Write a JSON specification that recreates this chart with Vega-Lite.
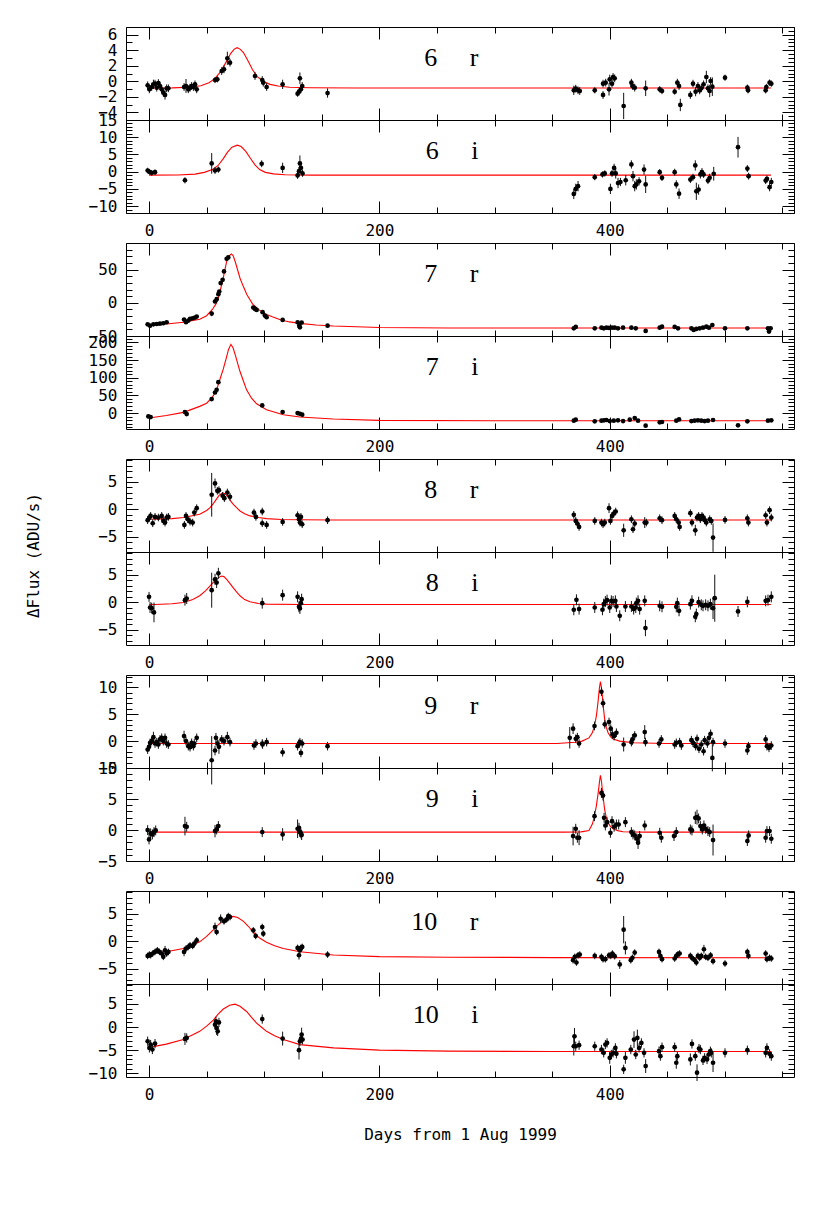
{
"$schema":"https://vega.github.io/schema/vega-lite/v6.json",
"background":"#ffffff",
"padding":{"left":24,"top":18,"right":10,"bottom":10},
"autosize":{"type":"pad"},
"config":{
 "view":{"stroke":"#000","strokeWidth":1},
 "axis":{"domain":false,"grid":false,"tickColor":"#000","tickWidth":1,"labelFont":"DejaVu Sans Mono","labelFontSize":16,"labelColor":"#000","titleFont":"DejaVu Sans Mono","titleFontSize":16,"titleFontWeight":"normal","titleColor":"#000","labelOverlap":false,"labelFlush":false,"labelBound":false}
},
"datasets":{
"m6r":[{"day":0,"flux":-0.87},{"day":20,"flux":-0.86},{"day":35,"flux":-0.78},{"day":45,"flux":-0.58},{"day":52,"flux":-0.2},{"day":57,"flux":0.3},{"day":62,"flux":1.2},{"day":67,"flux":2.5},{"day":71,"flux":3.6},{"day":74,"flux":4.15},{"day":76.5,"flux":4.33},{"day":79,"flux":4.15},{"day":82,"flux":3.7},{"day":86,"flux":2.6},{"day":90,"flux":1.45},{"day":94,"flux":0.6},{"day":99,"flux":0.0},{"day":105,"flux":-0.4},{"day":112,"flux":-0.62},{"day":122,"flux":-0.77},{"day":140,"flux":-0.84},{"day":180,"flux":-0.87},{"day":540,"flux":-0.87}],
"m6i":[{"day":0,"flux":-1.0},{"day":25,"flux":-0.95},{"day":40,"flux":-0.7},{"day":48,"flux":-0.2},{"day":55,"flux":0.6},{"day":60,"flux":1.8},{"day":64.5,"flux":3.8},{"day":68,"flux":5.6},{"day":72,"flux":7.1},{"day":76.6,"flux":7.7},{"day":80,"flux":7.3},{"day":84,"flux":5.9},{"day":88,"flux":3.9},{"day":92,"flux":2.0},{"day":96,"flux":0.6},{"day":101,"flux":-0.2},{"day":108,"flux":-0.65},{"day":118,"flux":-0.9},{"day":140,"flux":-1.0},{"day":540,"flux":-1.0}],
"m7r":[{"day":0,"flux":-33.4},{"day":15,"flux":-31.9},{"day":30,"flux":-29.3},{"day":44,"flux":-24.8},{"day":50,"flux":-19.5},{"day":55,"flux":-10},{"day":58,"flux":-2},{"day":60,"flux":6},{"day":62,"flux":20},{"day":64,"flux":33},{"day":65.5,"flux":47},{"day":67.5,"flux":63},{"day":69.5,"flux":70.5},{"day":71.5,"flux":73.5},{"day":73,"flux":71},{"day":75,"flux":61},{"day":77,"flux":49},{"day":79,"flux":37},{"day":82,"flux":24},{"day":85,"flux":12},{"day":90,"flux":-2},{"day":95,"flux":-10},{"day":100,"flux":-16},{"day":107,"flux":-21},{"day":114,"flux":-25.5},{"day":122,"flux":-28.8},{"day":131,"flux":-31},{"day":145,"flux":-33.5},{"day":160,"flux":-35},{"day":200,"flux":-37.2},{"day":260,"flux":-38},{"day":540,"flux":-38}],
"m7i":[{"day":0,"flux":-14},{"day":15,"flux":-7},{"day":30,"flux":2},{"day":44,"flux":19},{"day":50,"flux":28},{"day":53,"flux":37.7},{"day":56,"flux":50},{"day":58.7,"flux":65.8},{"day":60.2,"flux":82},{"day":62,"flux":100},{"day":64.5,"flux":125},{"day":67,"flux":155},{"day":69,"flux":180},{"day":71.1,"flux":194.5},{"day":73,"flux":184},{"day":75,"flux":163},{"day":77,"flux":140},{"day":79,"flux":117.5},{"day":82,"flux":90},{"day":84.7,"flux":65.8},{"day":89,"flux":42},{"day":93.4,"flux":26.4},{"day":102,"flux":9.5},{"day":116.6,"flux":-4.6},{"day":131,"flux":-11.2},{"day":160,"flux":-16.8},{"day":200,"flux":-20.5},{"day":300,"flux":-21.5},{"day":540,"flux":-21.8}],
"m8r":[{"day":0,"flux":-1.8},{"day":20,"flux":-1.7},{"day":30,"flux":-1.5},{"day":44,"flux":-0.9},{"day":50,"flux":-0.2},{"day":53,"flux":0.3},{"day":56,"flux":1.1},{"day":58.7,"flux":1.9},{"day":61,"flux":2.6},{"day":63.9,"flux":3.0},{"day":66,"flux":2.85},{"day":68.8,"flux":2.2},{"day":71,"flux":1.5},{"day":73,"flux":0.94},{"day":76,"flux":0.3},{"day":79,"flux":-0.3},{"day":83,"flux":-0.8},{"day":87.6,"flux":-1.2},{"day":95,"flux":-1.5},{"day":102,"flux":-1.7},{"day":115,"flux":-1.85},{"day":131,"flux":-1.9},{"day":160,"flux":-1.95},{"day":540,"flux":-1.95}],
"m8i":[{"day":0,"flux":-0.45},{"day":20,"flux":-0.25},{"day":29.8,"flux":-0.03},{"day":38,"flux":0.5},{"day":44,"flux":1.2},{"day":49,"flux":2.1},{"day":53,"flux":3.0},{"day":56,"flux":3.7},{"day":58.7,"flux":4.2},{"day":61,"flux":4.6},{"day":63,"flux":4.8},{"day":65,"flux":4.7},{"day":67.4,"flux":4.2},{"day":70,"flux":3.5},{"day":73,"flux":2.7},{"day":76,"flux":1.9},{"day":79,"flux":1.2},{"day":83,"flux":0.5},{"day":87.6,"flux":0.1},{"day":95,"flux":-0.2},{"day":102,"flux":-0.33},{"day":131,"flux":-0.4},{"day":540,"flux":-0.4}],
"m9r":[{"day":0,"flux":-0.44},{"day":354,"flux":-0.44},{"day":370,"flux":-0.2},{"day":376,"flux":0.0},{"day":382,"flux":0.6},{"day":385,"flux":1.6},{"day":386.7,"flux":2.8},{"day":388.5,"flux":4.8},{"day":389.8,"flux":7.2},{"day":391,"flux":9.8},{"day":391.9,"flux":11.05},{"day":392.8,"flux":10},{"day":393.6,"flux":8.4},{"day":394.6,"flux":6.0},{"day":395.6,"flux":4.1},{"day":397,"flux":2.6},{"day":398.5,"flux":1.6},{"day":400.5,"flux":0.9},{"day":402.9,"flux":0.4},{"day":408.7,"flux":0.0},{"day":420.3,"flux":-0.3},{"day":449,"flux":-0.44},{"day":540,"flux":-0.44}],
"m9i":[{"day":0,"flux":-0.34},{"day":360,"flux":-0.34},{"day":375,"flux":-0.3},{"day":382,"flux":-0.1},{"day":385,"flux":1.0},{"day":386.7,"flux":2.2},{"day":388.3,"flux":3.8},{"day":389.8,"flux":5.7},{"day":391,"flux":7.6},{"day":391.9,"flux":8.8},{"day":392.8,"flux":7.9},{"day":393.6,"flux":6.5},{"day":394.6,"flux":4.8},{"day":395.6,"flux":3.3},{"day":397,"flux":2.0},{"day":398.5,"flux":1.2},{"day":400.5,"flux":0.6},{"day":402.9,"flux":0.2},{"day":407,"flux":-0.1},{"day":411.5,"flux":-0.28},{"day":430,"flux":-0.34},{"day":540,"flux":-0.34}],
"m10r":[{"day":0,"flux":-2.2},{"day":15,"flux":-1.9},{"day":29.8,"flux":-1.3},{"day":44,"flux":-0.1},{"day":50,"flux":0.9},{"day":55.8,"flux":2.1},{"day":60,"flux":3.0},{"day":64.5,"flux":3.8},{"day":69,"flux":4.35},{"day":73,"flux":4.55},{"day":77,"flux":4.35},{"day":82,"flux":3.65},{"day":86,"flux":2.8},{"day":90.5,"flux":1.7},{"day":96,"flux":0.6},{"day":102,"flux":-0.15},{"day":109,"flux":-0.8},{"day":116.6,"flux":-1.3},{"day":131,"flux":-1.9},{"day":160,"flux":-2.5},{"day":200,"flux":-2.8},{"day":260,"flux":-2.9},{"day":350,"flux":-2.97},{"day":540,"flux":-3.0}],
"m10i":[{"day":0,"flux":-4.4},{"day":15,"flux":-3.7},{"day":29.8,"flux":-2.7},{"day":44,"flux":-0.93},{"day":50,"flux":0.2},{"day":55.8,"flux":1.5},{"day":60,"flux":2.8},{"day":64.5,"flux":3.9},{"day":70,"flux":4.7},{"day":74.6,"flux":4.94},{"day":79,"flux":4.5},{"day":84.7,"flux":3.36},{"day":89,"flux":2.1},{"day":93.4,"flux":0.86},{"day":98,"flux":-0.1},{"day":102,"flux":-0.93},{"day":109,"flux":-1.9},{"day":116.6,"flux":-2.7},{"day":131,"flux":-3.8},{"day":160,"flux":-4.5},{"day":200,"flux":-5.0},{"day":260,"flux":-5.2},{"day":350,"flux":-5.3},{"day":540,"flux":-5.3}],
"o6r":[{"day":-1.2,"flux":-0.53,"err":0.5},{"day":0.3,"flux":-1.04,"err":0.5},{"day":2.3,"flux":-0.74,"err":0.5},{"day":3.8,"flux":-0.4,"err":0.6},{"day":5.2,"flux":-0.31,"err":0.5},{"day":6.7,"flux":-0.83,"err":0.5},{"day":8.1,"flux":-0.23,"err":0.5},{"day":9.5,"flux":-0.61,"err":0.5},{"day":11.0,"flux":-1.04,"err":0.5},{"day":12.4,"flux":-1.47,"err":0.5},{"day":13.9,"flux":-1.77,"err":0.6},{"day":15.3,"flux":-0.91,"err":0.5},{"day":16.8,"flux":-0.91,"err":0.5},{"day":30.4,"flux":-0.74,"err":0.5},{"day":32.1,"flux":-0.61,"err":0.9},{"day":34.1,"flux":-1.04,"err":0.5},{"day":35.6,"flux":-0.83,"err":0.5},{"day":37.0,"flux":-0.61,"err":0.5},{"day":38.5,"flux":-0.74,"err":0.5},{"day":39.9,"flux":-0.4,"err":0.5},{"day":41.4,"flux":-1.04,"err":0.5},{"day":57.3,"flux":0.16,"err":0.4},{"day":59.3,"flux":0.25,"err":0.4},{"day":63.1,"flux":1.32,"err":0.5},{"day":65.1,"flux":1.54,"err":0.5},{"day":68.0,"flux":2.96,"err":0.85},{"day":70.3,"flux":2.4,"err":0.5},{"day":92.0,"flux":0.68,"err":0.5},{"day":98.3,"flux":0.16,"err":0.5},{"day":99.2,"flux":-0.18,"err":0.5},{"day":102.1,"flux":-0.74,"err":0.5},{"day":116.0,"flux":-0.4,"err":0.6},{"day":129.0,"flux":-1.6,"err":0.4},{"day":130.2,"flux":-1.34,"err":0.4},{"day":131.0,"flux":0.38,"err":0.75},{"day":131.9,"flux":-1.04,"err":0.5},{"day":133.0,"flux":-0.61,"err":0.5},{"day":155.0,"flux":-1.52,"err":0.6},{"day":368.8,"flux":-1.17,"err":0.6},{"day":370.5,"flux":-0.96,"err":0.5},{"day":372.5,"flux":-1.17,"err":0.5},{"day":374.0,"flux":-1.26,"err":0.5},{"day":387.0,"flux":-1.17,"err":0.4},{"day":394.2,"flux":-1.77,"err":0.5},{"day":394.2,"flux":-0.31,"err":0.5},{"day":396.5,"flux":-0.18,"err":0.5},{"day":399.4,"flux":-1.04,"err":0.8},{"day":400.0,"flux":0.25,"err":0.6},{"day":402.0,"flux":-0.31,"err":0.5},{"day":402.9,"flux":0.55,"err":0.5},{"day":404.3,"flux":0.38,"err":0.5},{"day":412.1,"flux":-3.19,"err":1.7},{"day":418.8,"flux":-0.18,"err":0.5},{"day":419.7,"flux":-0.61,"err":0.5},{"day":421.7,"flux":-0.83,"err":0.5},{"day":431.2,"flux":-0.91,"err":1.0},{"day":443.4,"flux":-1.04,"err":0.4},{"day":445.4,"flux":-1.26,"err":0.4},{"day":456.4,"flux":-1.34,"err":0.4},{"day":458.7,"flux":-0.18,"err":0.5},{"day":460.2,"flux":-0.61,"err":0.5},{"day":461.3,"flux":-3.06,"err":0.8},{"day":470.0,"flux":-1.77,"err":0.5},{"day":472.3,"flux":-0.31,"err":0.5},{"day":474.6,"flux":-1.34,"err":0.6},{"day":476.6,"flux":-0.61,"err":0.5},{"day":478.1,"flux":-1.17,"err":0.5},{"day":479.5,"flux":-0.91,"err":0.5},{"day":481.5,"flux":-0.4,"err":0.5},{"day":483.9,"flux":0.55,"err":0.8},{"day":485.3,"flux":-0.91,"err":0.5},{"day":486.8,"flux":-1.26,"err":0.8},{"day":487.6,"flux":0.03,"err":0.5},{"day":489.1,"flux":-0.7,"err":1.2},{"day":500.1,"flux":0.46,"err":0.4},{"day":519.5,"flux":-0.83,"err":0.4},{"day":520.1,"flux":-1.17,"err":0.4},{"day":535.4,"flux":-1.17,"err":0.4},{"day":536.0,"flux":-0.74,"err":0.4},{"day":538.8,"flux":-0.18,"err":0.4},{"day":540.3,"flux":-0.31,"err":0.4}],
"o6i":[{"day":-1.2,"flux":0.34,"err":0.8},{"day":0.3,"flux":-0.05,"err":0.8},{"day":2.3,"flux":-0.34,"err":0.8},{"day":5.2,"flux":-0.15,"err":0.8},{"day":31.2,"flux":-2.5,"err":0.9},{"day":54.4,"flux":2.4,"err":3.0},{"day":57.3,"flux":0.34,"err":1.0},{"day":60.2,"flux":0.6,"err":0.9},{"day":97.8,"flux":2.3,"err":1.0},{"day":116.0,"flux":1.1,"err":1.5},{"day":129.0,"flux":-1.1,"err":1.0},{"day":130.2,"flux":0.15,"err":1.2},{"day":131.0,"flux":2.4,"err":2.3},{"day":131.9,"flux":1.1,"err":1.5},{"day":133.3,"flux":-0.5,"err":1.0},{"day":368.8,"flux":-6.46,"err":1.5},{"day":370.5,"flux":-5.0,"err":1.5},{"day":372.5,"flux":-4.2,"err":1.5},{"day":387.0,"flux":-1.6,"err":0.9},{"day":393.7,"flux":-0.8,"err":0.9},{"day":395.7,"flux":-0.5,"err":0.9},{"day":400.6,"flux":-5.0,"err":1.5},{"day":402.0,"flux":-0.5,"err":1.0},{"day":403.8,"flux":1.1,"err":1.2},{"day":405.2,"flux":-0.5,"err":1.5},{"day":407.2,"flux":-3.3,"err":1.5},{"day":409.3,"flux":-3.0,"err":1.2},{"day":413.9,"flux":-2.5,"err":1.5},{"day":418.8,"flux":2.1,"err":1.2},{"day":420.2,"flux":-1.3,"err":1.5},{"day":421.7,"flux":-4.2,"err":1.5},{"day":423.1,"flux":-3.7,"err":1.5},{"day":425.5,"flux":-2.8,"err":1.2},{"day":429.8,"flux":0.6,"err":1.5},{"day":431.2,"flux":-3.7,"err":2.5},{"day":443.4,"flux":-0.15,"err":0.9},{"day":445.4,"flux":-1.8,"err":0.9},{"day":456.4,"flux":-0.15,"err":1.0},{"day":457.8,"flux":-3.7,"err":1.2},{"day":460.2,"flux":-6.4,"err":1.5},{"day":470.0,"flux":-2.3,"err":1.0},{"day":472.3,"flux":-1.6,"err":1.0},{"day":474.3,"flux":1.8,"err":1.5},{"day":475.2,"flux":-5.7,"err":2.5},{"day":477.2,"flux":-5.2,"err":1.5},{"day":478.7,"flux":-0.8,"err":1.2},{"day":480.1,"flux":-0.15,"err":1.2},{"day":481.5,"flux":-0.8,"err":1.0},{"day":485.3,"flux":-2.6,"err":1.0},{"day":486.8,"flux":-1.8,"err":1.2},{"day":490.3,"flux":-0.6,"err":2.0},{"day":511.4,"flux":7.1,"err":3.0},{"day":519.5,"flux":0.9,"err":1.0},{"day":520.6,"flux":-1.3,"err":1.0},{"day":535.4,"flux":-2.6,"err":1.0},{"day":536.5,"flux":-2.1,"err":1.0},{"day":538.8,"flux":-4.5,"err":1.2},{"day":540.3,"flux":-3.0,"err":1.2}],
"o7r":[{"day":-1.2,"flux":-32.4,"err":2},{"day":0.9,"flux":-34.4,"err":2},{"day":3.8,"flux":-32.4,"err":2},{"day":6.7,"flux":-31.9,"err":2},{"day":9.5,"flux":-31.4,"err":2},{"day":12.4,"flux":-30.8,"err":2},{"day":15.3,"flux":-29.3,"err":2},{"day":30.4,"flux":-25.3,"err":2},{"day":32.1,"flux":-29.3,"err":2},{"day":34.1,"flux":-26.8,"err":2},{"day":35.6,"flux":-24.3,"err":2},{"day":37.9,"flux":-23.3,"err":2},{"day":39.9,"flux":-22.3,"err":2},{"day":41.4,"flux":-20.8,"err":2},{"day":54.4,"flux":-16.2,"err":4},{"day":57.3,"flux":1.9,"err":2},{"day":58.7,"flux":5.4,"err":2},{"day":60.2,"flux":13.0,"err":2},{"day":61.0,"flux":17.0,"err":2},{"day":62.2,"flux":29.6,"err":2},{"day":63.9,"flux":34.6,"err":2},{"day":65.1,"flux":47.2,"err":2},{"day":67.4,"flux":66.3,"err":2},{"day":68.8,"flux":68.3,"err":2},{"day":90.5,"flux":-7.2,"err":2},{"day":92.0,"flux":-9.2,"err":2},{"day":93.4,"flux":-10.7,"err":2},{"day":98.6,"flux":-14.2,"err":2},{"day":100.6,"flux":-19.3,"err":2},{"day":102.1,"flux":-21.8,"err":2},{"day":116.0,"flux":-25.8,"err":2},{"day":129.0,"flux":-29.3,"err":2},{"day":130.4,"flux":-34.4,"err":3},{"day":131.0,"flux":-36.9,"err":2},{"day":132.5,"flux":-29.8,"err":2},{"day":155.0,"flux":-34.4,"err":2},{"day":368.8,"flux":-38.4,"err":2},{"day":370.5,"flux":-36.4,"err":2},{"day":387.0,"flux":-38.4,"err":2},{"day":392.8,"flux":-37.4,"err":2},{"day":394.8,"flux":-38.4,"err":2},{"day":397.1,"flux":-37.4,"err":2},{"day":399.4,"flux":-37.9,"err":2},{"day":402.0,"flux":-37.4,"err":2},{"day":404.3,"flux":-37.4,"err":2},{"day":407.2,"flux":-38.4,"err":2},{"day":411.6,"flux":-37.4,"err":2},{"day":418.8,"flux":-37.4,"err":2},{"day":422.6,"flux":-38.4,"err":2},{"day":431.2,"flux":-42.4,"err":2},{"day":443.4,"flux":-37.4,"err":2},{"day":445.4,"flux":-35.9,"err":2},{"day":456.4,"flux":-36.4,"err":2},{"day":459.3,"flux":-38.4,"err":2},{"day":470.9,"flux":-38.4,"err":2},{"day":472.9,"flux":-40.9,"err":2},{"day":475.2,"flux":-39.4,"err":2},{"day":478.1,"flux":-38.4,"err":2},{"day":481.0,"flux":-37.4,"err":2},{"day":483.9,"flux":-35.9,"err":2},{"day":486.2,"flux":-37.4,"err":2},{"day":489.1,"flux":-33.4,"err":2},{"day":500.1,"flux":-38.4,"err":2},{"day":519.5,"flux":-38.4,"err":2},{"day":537.4,"flux":-38.4,"err":2},{"day":538.3,"flux":-43.4,"err":2},{"day":539.7,"flux":-38.4,"err":2}],
"o7i":[{"day":-0.6,"flux":-9.3,"err":3},{"day":1.4,"flux":-11.2,"err":3},{"day":31.2,"flux":3.0,"err":3},{"day":32.7,"flux":-2.7,"err":3},{"day":54.4,"flux":39.5,"err":4},{"day":57.3,"flux":58.3,"err":4},{"day":58.7,"flux":65.8,"err":4},{"day":60.2,"flux":87.4,"err":4},{"day":98.3,"flux":21.7,"err":3},{"day":116.0,"flux":3.0,"err":3},{"day":129.0,"flux":0.05,"err":3},{"day":131.0,"flux":-1.8,"err":3},{"day":133.0,"flux":-4.6,"err":3},{"day":368.8,"flux":-21.5,"err":3},{"day":370.5,"flux":-18.7,"err":3},{"day":387.0,"flux":-23.4,"err":3},{"day":392.8,"flux":-21.5,"err":3},{"day":395.1,"flux":-20.5,"err":3},{"day":397.1,"flux":-19.6,"err":3},{"day":400.0,"flux":-22.5,"err":3},{"day":403.5,"flux":-21.5,"err":3},{"day":407.2,"flux":-20.5,"err":3},{"day":411.6,"flux":-22.5,"err":3},{"day":417.4,"flux":-18.7,"err":3},{"day":421.7,"flux":-14.0,"err":3},{"day":424.6,"flux":-21.5,"err":3},{"day":431.2,"flux":-35.6,"err":3},{"day":443.4,"flux":-26.2,"err":3},{"day":445.4,"flux":-25.2,"err":3},{"day":457.8,"flux":-21.5,"err":3},{"day":460.2,"flux":-17.8,"err":3},{"day":470.9,"flux":-22.5,"err":3},{"day":473.7,"flux":-21.5,"err":3},{"day":476.6,"flux":-20.5,"err":3},{"day":479.5,"flux":-21.5,"err":3},{"day":482.4,"flux":-22.5,"err":3},{"day":485.3,"flux":-21.5,"err":3},{"day":489.7,"flux":-19.6,"err":3},{"day":511.4,"flux":-34.6,"err":3},{"day":519.5,"flux":-23.4,"err":3},{"day":537.4,"flux":-21.5,"err":3},{"day":540.3,"flux":-20.5,"err":3}],
"o8r":[{"day":-1.2,"flux":-1.99,"err":0.7},{"day":0.3,"flux":-1.5,"err":0.7},{"day":1.4,"flux":-1.2,"err":0.7},{"day":3.2,"flux":-2.54,"err":0.7},{"day":5.2,"flux":-1.38,"err":0.7},{"day":8.1,"flux":-1.5,"err":0.7},{"day":11.0,"flux":-1.2,"err":0.7},{"day":12.4,"flux":-2.12,"err":0.7},{"day":13.9,"flux":-2.42,"err":0.7},{"day":15.3,"flux":-1.5,"err":0.7},{"day":16.8,"flux":-1.38,"err":0.7},{"day":30.7,"flux":-2.85,"err":0.7},{"day":32.1,"flux":-1.2,"err":0.7},{"day":33.6,"flux":-1.81,"err":0.7},{"day":35.6,"flux":-2.24,"err":0.7},{"day":37.9,"flux":-2.42,"err":0.7},{"day":39.3,"flux":-0.59,"err":0.7},{"day":41.4,"flux":0.21,"err":0.7},{"day":54.4,"flux":2.66,"err":4.0},{"day":57.3,"flux":4.73,"err":0.9},{"day":59.3,"flux":3.39,"err":0.7},{"day":60.7,"flux":3.51,"err":0.7},{"day":63.9,"flux":2.47,"err":0.7},{"day":65.4,"flux":2.04,"err":0.7},{"day":68.0,"flux":3.08,"err":0.7},{"day":70.3,"flux":2.29,"err":0.7},{"day":91.1,"flux":-0.59,"err":0.7},{"day":92.8,"flux":-1.38,"err":0.7},{"day":98.3,"flux":-0.4,"err":0.7},{"day":98.3,"flux":-2.54,"err":0.7},{"day":102.1,"flux":-2.85,"err":0.7},{"day":116.0,"flux":-2.3,"err":0.7},{"day":129.0,"flux":-1.08,"err":0.7},{"day":130.2,"flux":-1.81,"err":0.7},{"day":131.0,"flux":-2.42,"err":0.7},{"day":131.9,"flux":-1.38,"err":0.7},{"day":133.0,"flux":-2.73,"err":0.7},{"day":155.0,"flux":-1.99,"err":0.7},{"day":368.8,"flux":-1.01,"err":0.7},{"day":370.5,"flux":-2.12,"err":0.7},{"day":371.9,"flux":-2.6,"err":0.7},{"day":373.4,"flux":-3.22,"err":0.7},{"day":387.0,"flux":-2.12,"err":0.7},{"day":392.8,"flux":-2.42,"err":0.7},{"day":394.2,"flux":-2.73,"err":0.7},{"day":395.7,"flux":-2.42,"err":0.7},{"day":399.4,"flux":0.21,"err":0.9},{"day":400.6,"flux":-2.12,"err":0.7},{"day":402.0,"flux":-1.2,"err":0.7},{"day":403.5,"flux":-0.77,"err":0.7},{"day":405.2,"flux":-0.4,"err":0.7},{"day":412.1,"flux":-3.83,"err":1.2},{"day":418.8,"flux":-1.81,"err":0.7},{"day":420.2,"flux":-3.64,"err":0.7},{"day":421.7,"flux":-2.6,"err":0.7},{"day":430.4,"flux":-2.42,"err":1.0},{"day":431.8,"flux":-2.42,"err":0.7},{"day":443.4,"flux":-1.63,"err":0.7},{"day":445.4,"flux":-1.99,"err":0.7},{"day":456.4,"flux":-1.2,"err":0.7},{"day":457.8,"flux":-1.81,"err":0.7},{"day":459.9,"flux":-2.42,"err":0.7},{"day":460.7,"flux":-3.22,"err":0.7},{"day":470.0,"flux":-0.71,"err":0.7},{"day":471.4,"flux":-2.42,"err":0.7},{"day":474.3,"flux":-3.83,"err":1.0},{"day":475.8,"flux":-1.5,"err":0.7},{"day":477.2,"flux":-1.2,"err":0.7},{"day":478.7,"flux":-1.81,"err":0.7},{"day":480.1,"flux":-1.2,"err":0.7},{"day":481.5,"flux":-1.5,"err":0.7},{"day":482.4,"flux":-1.99,"err":0.7},{"day":483.9,"flux":-2.42,"err":0.7},{"day":486.8,"flux":-1.81,"err":0.7},{"day":488.2,"flux":-2.12,"err":0.7},{"day":489.7,"flux":-5.17,"err":2.6},{"day":500.1,"flux":-1.93,"err":0.7},{"day":519.5,"flux":-1.63,"err":0.7},{"day":520.4,"flux":-2.42,"err":0.7},{"day":535.4,"flux":-1.08,"err":0.7},{"day":536.5,"flux":-2.42,"err":0.7},{"day":538.8,"flux":-0.16,"err":0.7},{"day":540.3,"flux":-1.5,"err":0.7}],
"o8i":[{"day":0,"flux":1.0,"err":0.9},{"day":0.9,"flux":-0.94,"err":1.0},{"day":2.3,"flux":-1.06,"err":1.0},{"day":4.3,"flux":-1.85,"err":1.8},{"day":31.2,"flux":0.4,"err":1.0},{"day":32.7,"flux":0.7,"err":1.0},{"day":54.4,"flux":2.22,"err":3.2},{"day":57.3,"flux":4.22,"err":1.0},{"day":58.7,"flux":3.61,"err":1.0},{"day":60.2,"flux":5.31,"err":1.0},{"day":98.3,"flux":-0.15,"err":1.0},{"day":116.0,"flux":1.31,"err":1.0},{"day":129.0,"flux":1.0,"err":1.0},{"day":130.2,"flux":-0.82,"err":1.0},{"day":131.0,"flux":-1.12,"err":1.0},{"day":131.9,"flux":-0.15,"err":1.0},{"day":132.5,"flux":0.58,"err":1.0},{"day":368.8,"flux":-1.36,"err":1.0},{"day":371.1,"flux":0.46,"err":1.0},{"day":373.4,"flux":-1.24,"err":1.0},{"day":387.0,"flux":-0.94,"err":1.0},{"day":393.7,"flux":-1.36,"err":1.0},{"day":394.8,"flux":-0.33,"err":1.0},{"day":396.2,"flux":0.15,"err":1.0},{"day":397.7,"flux":0.4,"err":1.0},{"day":400.0,"flux":-0.94,"err":1.0},{"day":401.4,"flux":0.27,"err":1.0},{"day":402.9,"flux":0.15,"err":1.0},{"day":404.9,"flux":0.27,"err":1.0},{"day":405.8,"flux":-0.76,"err":1.0},{"day":408.7,"flux":-2.46,"err":1.0},{"day":413.6,"flux":-0.76,"err":1.0},{"day":418.8,"flux":-0.76,"err":1.0},{"day":420.8,"flux":-1.24,"err":1.0},{"day":422.6,"flux":-0.94,"err":1.0},{"day":423.1,"flux":-0.15,"err":1.0},{"day":424.6,"flux":0.27,"err":1.0},{"day":426.0,"flux":-1.24,"err":1.0},{"day":430.4,"flux":0.27,"err":1.0},{"day":431.0,"flux":-4.7,"err":1.5},{"day":443.4,"flux":-0.64,"err":1.0},{"day":445.4,"flux":-0.82,"err":1.0},{"day":457.8,"flux":-0.82,"err":1.0},{"day":458.7,"flux":-0.15,"err":1.0},{"day":460.2,"flux":-1.55,"err":1.0},{"day":470.0,"flux":-0.33,"err":1.0},{"day":471.4,"flux":0.27,"err":1.0},{"day":474.3,"flux":-2.64,"err":1.0},{"day":475.2,"flux":-2.15,"err":1.0},{"day":477.2,"flux":0.03,"err":1.0},{"day":479.5,"flux":-0.45,"err":1.0},{"day":481.0,"flux":-0.64,"err":1.0},{"day":483.3,"flux":-0.45,"err":1.0},{"day":485.3,"flux":-0.64,"err":1.0},{"day":487.4,"flux":-0.33,"err":1.0},{"day":489.7,"flux":-1.06,"err":2.0},{"day":491.2,"flux":0.76,"err":4.3},{"day":511.4,"flux":-1.67,"err":1.0},{"day":519.5,"flux":0.09,"err":1.0},{"day":535.4,"flux":0.27,"err":1.0},{"day":537.4,"flux":0.4,"err":1.0},{"day":540.3,"flux":1.0,"err":1.0}],
"o9r":[{"day":-1.2,"flux":-1.57,"err":0.8},{"day":0,"flux":-1.07,"err":0.8},{"day":0.9,"flux":-0.32,"err":0.8},{"day":2.3,"flux":0.0,"err":0.8},{"day":3.8,"flux":0.74,"err":1.0},{"day":5.2,"flux":-0.44,"err":0.8},{"day":6.7,"flux":-0.19,"err":0.8},{"day":8.1,"flux":-0.63,"err":0.8},{"day":9.5,"flux":0.31,"err":0.8},{"day":11.0,"flux":0.62,"err":0.8},{"day":12.4,"flux":0.0,"err":0.8},{"day":13.9,"flux":0.62,"err":0.8},{"day":15.3,"flux":-0.44,"err":0.8},{"day":16.8,"flux":-0.63,"err":0.8},{"day":30.4,"flux":0.93,"err":1.0},{"day":32.1,"flux":0.0,"err":0.8},{"day":34.1,"flux":-0.94,"err":0.8},{"day":35.6,"flux":-1.13,"err":0.8},{"day":37.0,"flux":-0.32,"err":0.8},{"day":38.5,"flux":-0.94,"err":0.8},{"day":39.3,"flux":-0.44,"err":0.8},{"day":41.4,"flux":0.62,"err":0.8},{"day":54.4,"flux":-3.56,"err":4.5},{"day":57.3,"flux":-1.75,"err":0.9},{"day":58.1,"flux":0.62,"err":0.9},{"day":59.3,"flux":-0.44,"err":0.8},{"day":60.7,"flux":-1.07,"err":1.3},{"day":63.1,"flux":0.31,"err":0.8},{"day":65.1,"flux":0.0,"err":0.8},{"day":68.0,"flux":0.74,"err":1.0},{"day":70.3,"flux":-0.19,"err":0.8},{"day":91.1,"flux":-0.82,"err":0.8},{"day":92.8,"flux":-0.44,"err":0.8},{"day":98.3,"flux":-0.44,"err":0.8},{"day":98.6,"flux":-0.63,"err":0.8},{"day":102.1,"flux":-0.19,"err":0.8},{"day":116.0,"flux":-2.07,"err":0.8},{"day":129.0,"flux":-0.94,"err":0.8},{"day":130.2,"flux":-0.44,"err":0.8},{"day":131.0,"flux":-0.19,"err":0.8},{"day":131.9,"flux":-2.19,"err":0.8},{"day":133.0,"flux":-0.44,"err":0.8},{"day":155.0,"flux":-0.94,"err":0.8},{"day":365.3,"flux":0.62,"err":2.0},{"day":368.2,"flux":2.31,"err":1.0},{"day":370.5,"flux":0.43,"err":0.8},{"day":371.9,"flux":0.74,"err":0.8},{"day":373.4,"flux":-0.44,"err":0.8},{"day":386.8,"flux":2.81,"err":0.8},{"day":392.8,"flux":9.18,"err":0.8},{"day":394.2,"flux":7.05,"err":0.8},{"day":395.7,"flux":3.12,"err":0.8},{"day":399.4,"flux":3.56,"err":0.8},{"day":400.9,"flux":2.31,"err":0.8},{"day":402.3,"flux":1.24,"err":0.8},{"day":403.8,"flux":0.93,"err":0.8},{"day":405.8,"flux":1.56,"err":0.8},{"day":412.1,"flux":-0.63,"err":1.3},{"day":418.8,"flux":-0.19,"err":0.8},{"day":419.7,"flux":0.31,"err":1.0},{"day":421.7,"flux":1.06,"err":0.8},{"day":430.4,"flux":1.68,"err":1.3},{"day":431.0,"flux":-0.19,"err":0.8},{"day":442.8,"flux":-0.44,"err":0.8},{"day":444.8,"flux":0.31,"err":0.8},{"day":456.4,"flux":-0.63,"err":0.8},{"day":457.8,"flux":-0.32,"err":0.8},{"day":460.7,"flux":-0.19,"err":0.8},{"day":462.2,"flux":-0.82,"err":0.8},{"day":470.9,"flux":0.18,"err":0.8},{"day":472.3,"flux":-0.32,"err":0.8},{"day":474.6,"flux":-0.94,"err":0.8},{"day":475.8,"flux":0.43,"err":0.8},{"day":477.5,"flux":-1.44,"err":0.8},{"day":479.5,"flux":-0.63,"err":0.8},{"day":481.5,"flux":-1.88,"err":0.8},{"day":482.4,"flux":0.18,"err":0.8},{"day":484.8,"flux":-0.44,"err":0.8},{"day":486.2,"flux":0.62,"err":0.8},{"day":487.6,"flux":1.37,"err":0.8},{"day":489.1,"flux":-3.13,"err":2.5},{"day":489.7,"flux":-0.19,"err":0.8},{"day":500.1,"flux":-0.44,"err":0.8},{"day":519.5,"flux":-1.75,"err":0.8},{"day":520.4,"flux":-0.94,"err":0.8},{"day":535.4,"flux":0.31,"err":0.8},{"day":536.5,"flux":-0.94,"err":0.8},{"day":538.3,"flux":-1.25,"err":0.8},{"day":540.3,"flux":-0.82,"err":0.8}],
"o9i":[{"day":-1.2,"flux":-0.02,"err":0.8},{"day":0,"flux":-1.52,"err":0.8},{"day":1.4,"flux":-0.55,"err":0.8},{"day":2.9,"flux":-0.71,"err":0.8},{"day":4.3,"flux":-0.34,"err":0.8},{"day":5.8,"flux":-0.07,"err":0.8},{"day":31.2,"flux":0.63,"err":1.5},{"day":32.7,"flux":0.52,"err":0.8},{"day":57.3,"flux":-0.18,"err":1.0},{"day":58.7,"flux":0.09,"err":0.8},{"day":60.2,"flux":0.63,"err":0.8},{"day":98.3,"flux":-0.34,"err":0.8},{"day":116.0,"flux":-0.71,"err":1.0},{"day":129.0,"flux":0.2,"err":1.5},{"day":130.2,"flux":0.36,"err":0.8},{"day":131.0,"flux":-0.34,"err":0.8},{"day":131.9,"flux":-0.55,"err":0.8},{"day":132.5,"flux":-0.82,"err":0.8},{"day":368.2,"flux":-0.98,"err":1.5},{"day":370.5,"flux":0.2,"err":0.8},{"day":371.9,"flux":-1.25,"err":0.8},{"day":373.4,"flux":-1.25,"err":1.2},{"day":386.8,"flux":2.23,"err":0.8},{"day":392.8,"flux":5.98,"err":0.8},{"day":394.2,"flux":5.55,"err":0.8},{"day":395.1,"flux":1.97,"err":0.8},{"day":396.2,"flux":0.73,"err":0.8},{"day":397.7,"flux":1.27,"err":0.8},{"day":400.6,"flux":-0.45,"err":0.8},{"day":402.0,"flux":1.43,"err":0.8},{"day":403.8,"flux":0.52,"err":0.8},{"day":405.8,"flux":0.89,"err":0.8},{"day":407.8,"flux":0.89,"err":0.8},{"day":413.6,"flux":1.27,"err":0.8},{"day":418.8,"flux":-0.34,"err":0.8},{"day":420.2,"flux":-0.71,"err":0.8},{"day":421.7,"flux":-0.87,"err":0.8},{"day":423.7,"flux":-1.41,"err":0.8},{"day":424.6,"flux":-2.05,"err":1.0},{"day":426.0,"flux":-0.98,"err":0.8},{"day":430.4,"flux":0.73,"err":0.8},{"day":443.4,"flux":-0.44,"err":0.8},{"day":444.8,"flux":-1.25,"err":0.8},{"day":455.8,"flux":-0.98,"err":0.8},{"day":457.8,"flux":-0.34,"err":0.8},{"day":470.0,"flux":0.09,"err":0.8},{"day":471.4,"flux":-0.07,"err":0.8},{"day":474.3,"flux":1.97,"err":1.0},{"day":475.8,"flux":2.07,"err":1.2},{"day":477.2,"flux":1.86,"err":0.8},{"day":478.7,"flux":0.63,"err":0.8},{"day":480.4,"flux":0.09,"err":0.8},{"day":481.8,"flux":0.73,"err":0.8},{"day":483.3,"flux":0.2,"err":0.8},{"day":485.3,"flux":-0.18,"err":0.8},{"day":486.8,"flux":-0.34,"err":0.8},{"day":489.7,"flux":-1.62,"err":2.5},{"day":519.5,"flux":-1.78,"err":0.8},{"day":520.6,"flux":-0.87,"err":0.8},{"day":535.4,"flux":-1.25,"err":0.8},{"day":536.5,"flux":-0.18,"err":0.8},{"day":538.8,"flux":-0.18,"err":0.8},{"day":540.3,"flux":-1.41,"err":0.8}],
"o10r":[{"day":-1.2,"flux":-2.66,"err":0.6},{"day":0.3,"flux":-2.42,"err":0.6},{"day":1.4,"flux":-2.54,"err":0.6},{"day":3.2,"flux":-2.23,"err":0.6},{"day":5.2,"flux":-1.93,"err":0.6},{"day":7.2,"flux":-1.63,"err":0.6},{"day":9.0,"flux":-1.93,"err":0.6},{"day":11.0,"flux":-2.23,"err":0.6},{"day":12.4,"flux":-2.84,"err":0.6},{"day":13.9,"flux":-1.63,"err":0.8},{"day":15.3,"flux":-2.23,"err":0.6},{"day":16.8,"flux":-1.93,"err":0.6},{"day":30.4,"flux":-1.93,"err":0.8},{"day":32.1,"flux":-1.32,"err":0.6},{"day":34.1,"flux":-1.02,"err":0.6},{"day":35.6,"flux":-0.72,"err":0.6},{"day":37.9,"flux":-0.84,"err":0.6},{"day":39.3,"flux":-0.42,"err":0.6},{"day":41.4,"flux":0.19,"err":0.6},{"day":57.3,"flux":2.62,"err":0.8},{"day":58.7,"flux":1.71,"err":0.6},{"day":62.2,"flux":4.13,"err":0.8},{"day":65.1,"flux":3.65,"err":0.6},{"day":67.4,"flux":4.01,"err":0.6},{"day":68.8,"flux":4.62,"err":0.6},{"day":70.3,"flux":4.43,"err":0.6},{"day":90.5,"flux":2.01,"err":0.6},{"day":92.6,"flux":0.98,"err":0.6},{"day":98.3,"flux":2.62,"err":0.6},{"day":99.2,"flux":1.4,"err":0.6},{"day":129.0,"flux":-1.2,"err":0.6},{"day":130.2,"flux":-2.54,"err":0.8},{"day":131.0,"flux":-1.63,"err":0.6},{"day":131.9,"flux":-1.2,"err":0.6},{"day":133.0,"flux":-1.02,"err":0.6},{"day":155.0,"flux":-2.42,"err":0.6},{"day":368.2,"flux":-3.45,"err":0.6},{"day":369.7,"flux":-2.84,"err":0.6},{"day":371.1,"flux":-3.87,"err":0.6},{"day":372.5,"flux":-2.54,"err":0.6},{"day":374.0,"flux":-2.42,"err":0.6},{"day":387.0,"flux":-2.66,"err":0.6},{"day":392.8,"flux":-2.84,"err":0.6},{"day":394.2,"flux":-3.26,"err":0.6},{"day":396.2,"flux":-3.26,"err":0.6},{"day":399.4,"flux":-2.54,"err":0.6},{"day":400.9,"flux":-2.66,"err":0.6},{"day":402.3,"flux":-2.23,"err":0.6},{"day":404.3,"flux":-2.72,"err":0.6},{"day":408.7,"flux":-4.23,"err":0.8},{"day":412.1,"flux":2.13,"err":2.5},{"day":413.6,"flux":-1.2,"err":1.2},{"day":418.3,"flux":-3.45,"err":0.6},{"day":419.7,"flux":-3.02,"err":0.6},{"day":421.7,"flux":-2.05,"err":0.6},{"day":442.8,"flux":-1.93,"err":0.6},{"day":444.0,"flux":-2.66,"err":0.6},{"day":445.4,"flux":-3.26,"err":0.6},{"day":456.4,"flux":-3.14,"err":0.6},{"day":457.8,"flux":-2.66,"err":0.6},{"day":459.3,"flux":-2.35,"err":0.6},{"day":460.7,"flux":-2.23,"err":0.6},{"day":470.0,"flux":-2.66,"err":0.6},{"day":471.4,"flux":-3.02,"err":0.6},{"day":473.7,"flux":-3.45,"err":0.6},{"day":475.2,"flux":-3.87,"err":0.6},{"day":476.6,"flux":-2.66,"err":0.6},{"day":478.1,"flux":-3.02,"err":0.6},{"day":479.5,"flux":-2.66,"err":0.6},{"day":481.8,"flux":-1.45,"err":0.8},{"day":483.3,"flux":-2.84,"err":0.6},{"day":485.3,"flux":-3.02,"err":0.6},{"day":487.6,"flux":-2.54,"err":0.6},{"day":489.7,"flux":-3.63,"err":0.6},{"day":500.1,"flux":-4.05,"err":0.6},{"day":519.5,"flux":-1.93,"err":0.6},{"day":520.4,"flux":-2.66,"err":0.6},{"day":535.4,"flux":-2.23,"err":0.6},{"day":536.5,"flux":-3.26,"err":0.6},{"day":538.8,"flux":-3.02,"err":0.6},{"day":540.3,"flux":-3.14,"err":0.6}],
"o10i":[{"day":-1.2,"flux":-3.07,"err":1.0},{"day":0.3,"flux":-4.51,"err":1.0},{"day":1.4,"flux":-3.79,"err":1.0},{"day":2.9,"flux":-4.86,"err":1.0},{"day":5.2,"flux":-3.58,"err":1.0},{"day":31.2,"flux":-2.57,"err":1.3},{"day":32.7,"flux":-2.36,"err":1.0},{"day":57.3,"flux":0.5,"err":1.0},{"day":58.1,"flux":1.22,"err":1.0},{"day":58.7,"flux":-0.21,"err":1.5},{"day":59.6,"flux":-0.93,"err":1.0},{"day":60.7,"flux":1.0,"err":1.0},{"day":98.3,"flux":1.72,"err":1.0},{"day":116.0,"flux":-2.5,"err":1.5},{"day":130.2,"flux":-5.01,"err":2.0},{"day":131.0,"flux":-3.07,"err":1.0},{"day":131.9,"flux":-2.57,"err":1.0},{"day":132.5,"flux":-1.64,"err":1.5},{"day":133.3,"flux":-2.72,"err":1.0},{"day":368.8,"flux":-4.15,"err":2.0},{"day":369.4,"flux":-2.0,"err":1.8},{"day":370.5,"flux":-4.15,"err":1.0},{"day":373.4,"flux":-3.93,"err":1.0},{"day":387.0,"flux":-4.15,"err":1.0},{"day":392.8,"flux":-4.86,"err":1.0},{"day":394.8,"flux":-5.58,"err":1.0},{"day":396.2,"flux":-3.79,"err":1.0},{"day":397.7,"flux":-3.43,"err":1.0},{"day":400.0,"flux":-6.65,"err":1.3},{"day":401.4,"flux":-5.94,"err":1.0},{"day":402.9,"flux":-5.58,"err":1.0},{"day":404.9,"flux":-4.51,"err":1.0},{"day":405.8,"flux":-5.79,"err":1.0},{"day":412.1,"flux":-9.15,"err":1.0},{"day":413.6,"flux":-6.65,"err":1.3},{"day":418.3,"flux":-4.86,"err":1.0},{"day":421.1,"flux":-2.72,"err":1.8},{"day":422.6,"flux":-5.94,"err":1.0},{"day":424.0,"flux":-2.36,"err":1.8},{"day":425.5,"flux":-4.51,"err":1.0},{"day":427.5,"flux":-3.43,"err":1.0},{"day":429.8,"flux":-5.58,"err":1.0},{"day":431.2,"flux":-8.44,"err":1.5},{"day":442.8,"flux":-5.22,"err":1.0},{"day":444.0,"flux":-6.29,"err":1.0},{"day":445.4,"flux":-4.36,"err":1.0},{"day":456.4,"flux":-4.36,"err":1.0},{"day":457.8,"flux":-7.72,"err":1.3},{"day":458.7,"flux":-6.29,"err":1.0},{"day":470.0,"flux":-7.01,"err":1.3},{"day":471.4,"flux":-3.65,"err":1.0},{"day":474.3,"flux":-6.29,"err":1.0},{"day":475.8,"flux":-9.87,"err":1.8},{"day":477.5,"flux":-4.65,"err":1.0},{"day":478.7,"flux":-4.86,"err":1.0},{"day":481.0,"flux":-7.22,"err":1.0},{"day":482.4,"flux":-6.65,"err":1.0},{"day":484.5,"flux":-7.01,"err":1.0},{"day":485.9,"flux":-5.94,"err":1.0},{"day":487.4,"flux":-5.22,"err":1.0},{"day":488.2,"flux":-5.58,"err":1.0},{"day":489.7,"flux":-7.72,"err":2.0},{"day":500.1,"flux":-5.58,"err":1.0},{"day":519.5,"flux":-5.01,"err":1.0},{"day":535.4,"flux":-5.58,"err":1.0},{"day":536.5,"flux":-4.51,"err":1.0},{"day":538.8,"flux":-5.79,"err":1.0},{"day":540.3,"flux":-6.29,"err":1.0}]
},
"vconcat":[
{"width":668,"height":93,"layer":[
 {"data":{"name":"m6r"},"mark":{"type":"line","color":"#ff0000","strokeWidth":1.1},"encoding":{"x":{"field":"day","type":"quantitative","scale":{"domain":[-20,560],"nice":false,"zero":false},"axis":{"orient":"bottom","title":null,"labels":false,"values":[0,50,100,150,200,250,300,350,400,450,500,550],"tickSize":{"condition":{"test":"datum.value % 200 === 0","value":-12},"value":-6}}},"y":{"field":"flux","type":"quantitative","scale":{"domain":[-5,7],"nice":false,"zero":false},"axis":{"orient":"left","title":null,"format":"d","values":[-5,-4.5,-4,-3.5,-3,-2.5,-2,-1.5,-1,-0.5,0,0.5,1,1.5,2,2.5,3,3.5,4,4.5,5,5.5,6,6.5,7],"tickSize":{"condition":{"test":"datum.value % 2 === 0","value":-12},"value":-6},"labelExpr":"datum.value % 2 === 0 ? datum.label : ''","labelPadding":21}}}},
 {"data":{"name":"o6r"},"mark":{"type":"errorbar","ticks":false,"rule":{"color":"#111","strokeWidth":1}},"encoding":{"x":{"field":"day","type":"quantitative","scale":{"domain":[-20,560],"nice":false,"zero":false},"axis":null},"y":{"field":"flux","type":"quantitative","scale":{"domain":[-5,7],"nice":false,"zero":false},"axis":null},"yError":{"field":"err"}}},
 {"data":{"name":"o6r"},"mark":{"type":"circle","color":"#000","size":22,"opacity":1},"encoding":{"x":{"field":"day","type":"quantitative","scale":{"domain":[-20,560],"nice":false,"zero":false},"axis":{"orient":"top","title":null,"labels":false,"values":[0,50,100,150,200,250,300,350,400,450,500,550],"tickSize":{"condition":{"test":"datum.value % 200 === 0","value":-12},"value":-6}}},"y":{"field":"flux","type":"quantitative","scale":{"domain":[-5,7],"nice":false,"zero":false},"axis":{"orient":"right","title":null,"labels":false,"values":[-5,-4.5,-4,-3.5,-3,-2.5,-2,-1.5,-1,-0.5,0,0.5,1,1.5,2,2.5,3,3.5,4,4.5,5,5.5,6,6.5,7],"tickSize":{"condition":{"test":"datum.value % 2 === 0","value":-12},"value":-6}}}}},
 {"data":{"values":[{"day":286,"flux":3.0,"label":"6\u2003 r"}]},"mark":{"type":"text","align":"right","baseline":"middle","font":"Liberation Serif","fontSize":26,"color":"#000"},"encoding":{"x":{"field":"day","type":"quantitative","scale":{"domain":[-20,560],"nice":false,"zero":false},"axis":null},"y":{"field":"flux","type":"quantitative","scale":{"domain":[-5,7],"nice":false,"zero":false},"axis":null},"text":{"field":"label","type":"nominal"}}}
],"resolve":{"axis":{"x":"independent","y":"independent"}}},
{"width":668,"height":93,"layer":[
 {"data":{"name":"m6i"},"mark":{"type":"line","color":"#ff0000","strokeWidth":1.1},"encoding":{"x":{"field":"day","type":"quantitative","scale":{"domain":[-20,560],"nice":false,"zero":false},"axis":{"orient":"bottom","title":null,"values":[0,50,100,150,200,250,300,350,400,450,500,550],"tickSize":{"condition":{"test":"datum.value % 200 === 0","value":-12},"value":-6},"labelExpr":"datum.value % 200 === 0 ? datum.label : ''","labelPadding":21}},"y":{"field":"flux","type":"quantitative","scale":{"domain":[-12,15],"nice":false,"zero":false},"axis":{"orient":"left","title":null,"values":[-12,-11,-10,-9,-8,-7,-6,-5,-4,-3,-2,-1,0,1,2,3,4,5,6,7,8,9,10,11,12,13,14,15],"tickSize":{"condition":{"test":"datum.value % 5 === 0","value":-12},"value":-6},"labelExpr":"datum.value % 5 === 0 ? datum.label : ''","labelPadding":21}}}},
 {"data":{"name":"o6i"},"mark":{"type":"errorbar","ticks":false,"rule":{"color":"#111","strokeWidth":1}},"encoding":{"x":{"field":"day","type":"quantitative","scale":{"domain":[-20,560],"nice":false,"zero":false},"axis":null},"y":{"field":"flux","type":"quantitative","scale":{"domain":[-12,15],"nice":false,"zero":false},"axis":null},"yError":{"field":"err"}}},
 {"data":{"name":"o6i"},"mark":{"type":"circle","color":"#000","size":22,"opacity":1},"encoding":{"x":{"field":"day","type":"quantitative","scale":{"domain":[-20,560],"nice":false,"zero":false},"axis":{"orient":"top","title":null,"labels":false,"values":[0,50,100,150,200,250,300,350,400,450,500,550],"tickSize":{"condition":{"test":"datum.value % 200 === 0","value":-12},"value":-6}}},"y":{"field":"flux","type":"quantitative","scale":{"domain":[-12,15],"nice":false,"zero":false},"axis":{"orient":"right","title":null,"labels":false,"values":[-12,-11,-10,-9,-8,-7,-6,-5,-4,-3,-2,-1,0,1,2,3,4,5,6,7,8,9,10,11,12,13,14,15],"tickSize":{"condition":{"test":"datum.value % 5 === 0","value":-12},"value":-6}}}}},
 {"data":{"values":[{"day":286,"flux":6.1,"label":"6\u2003 i"}]},"mark":{"type":"text","align":"right","baseline":"middle","font":"Liberation Serif","fontSize":26,"color":"#000"},"encoding":{"x":{"field":"day","type":"quantitative","scale":{"domain":[-20,560],"nice":false,"zero":false},"axis":null},"y":{"field":"flux","type":"quantitative","scale":{"domain":[-12,15],"nice":false,"zero":false},"axis":null},"text":{"field":"label","type":"nominal"}}}
],"resolve":{"axis":{"x":"independent","y":"independent"}}},
{"width":668,"height":30,"view":{"stroke":null},"data":{"values":[{"a":1}]},"mark":{"type":"text"},"encoding":{"text":{"value":""}}},
{"width":668,"height":93,"layer":[
 {"data":{"name":"m7r"},"mark":{"type":"line","color":"#ff0000","strokeWidth":1.1},"encoding":{"x":{"field":"day","type":"quantitative","scale":{"domain":[-20,560],"nice":false,"zero":false},"axis":{"orient":"bottom","title":null,"labels":false,"values":[0,50,100,150,200,250,300,350,400,450,500,550],"tickSize":{"condition":{"test":"datum.value % 200 === 0","value":-12},"value":-6}}},"y":{"field":"flux","type":"quantitative","scale":{"domain":[-50,90],"nice":false,"zero":false},"axis":{"orient":"left","title":null,"values":[-50,-40,-30,-20,-10,0,10,20,30,40,50,60,70,80,90],"tickSize":{"condition":{"test":"datum.value % 50 === 0","value":-12},"value":-6},"labelExpr":"datum.value % 50 === 0 ? datum.label : ''","labelPadding":21}}}},
 {"data":{"name":"o7r"},"mark":{"type":"errorbar","ticks":false,"rule":{"color":"#111","strokeWidth":1}},"encoding":{"x":{"field":"day","type":"quantitative","scale":{"domain":[-20,560],"nice":false,"zero":false},"axis":null},"y":{"field":"flux","type":"quantitative","scale":{"domain":[-50,90],"nice":false,"zero":false},"axis":null},"yError":{"field":"err"}}},
 {"data":{"name":"o7r"},"mark":{"type":"circle","color":"#000","size":22,"opacity":1},"encoding":{"x":{"field":"day","type":"quantitative","scale":{"domain":[-20,560],"nice":false,"zero":false},"axis":{"orient":"top","title":null,"labels":false,"values":[0,50,100,150,200,250,300,350,400,450,500,550],"tickSize":{"condition":{"test":"datum.value % 200 === 0","value":-12},"value":-6}}},"y":{"field":"flux","type":"quantitative","scale":{"domain":[-50,90],"nice":false,"zero":false},"axis":{"orient":"right","title":null,"labels":false,"values":[-50,-40,-30,-20,-10,0,10,20,30,40,50,60,70,80,90],"tickSize":{"condition":{"test":"datum.value % 50 === 0","value":-12},"value":-6}}}}},
 {"data":{"values":[{"day":286,"flux":43.8,"label":"7\u2003 r"}]},"mark":{"type":"text","align":"right","baseline":"middle","font":"Liberation Serif","fontSize":26,"color":"#000"},"encoding":{"x":{"field":"day","type":"quantitative","scale":{"domain":[-20,560],"nice":false,"zero":false},"axis":null},"y":{"field":"flux","type":"quantitative","scale":{"domain":[-50,90],"nice":false,"zero":false},"axis":null},"text":{"field":"label","type":"nominal"}}}
],"resolve":{"axis":{"x":"independent","y":"independent"}}},
{"width":668,"height":93,"layer":[
 {"data":{"name":"m7i"},"mark":{"type":"line","color":"#ff0000","strokeWidth":1.1},"encoding":{"x":{"field":"day","type":"quantitative","scale":{"domain":[-20,560],"nice":false,"zero":false},"axis":{"orient":"bottom","title":null,"values":[0,50,100,150,200,250,300,350,400,450,500,550],"tickSize":{"condition":{"test":"datum.value % 200 === 0","value":-12},"value":-6},"labelExpr":"datum.value % 200 === 0 ? datum.label : ''","labelPadding":21}},"y":{"field":"flux","type":"quantitative","scale":{"domain":[-45,218],"nice":false,"zero":false},"axis":{"orient":"left","title":null,"values":[-40,-30,-20,-10,0,10,20,30,40,50,60,70,80,90,100,110,120,130,140,150,160,170,180,190,200,210],"tickSize":{"condition":{"test":"datum.value % 50 === 0","value":-12},"value":-6},"labelExpr":"datum.value % 50 === 0 ? datum.label : ''","labelPadding":21}}}},
 {"data":{"name":"o7i"},"mark":{"type":"errorbar","ticks":false,"rule":{"color":"#111","strokeWidth":1}},"encoding":{"x":{"field":"day","type":"quantitative","scale":{"domain":[-20,560],"nice":false,"zero":false},"axis":null},"y":{"field":"flux","type":"quantitative","scale":{"domain":[-45,218],"nice":false,"zero":false},"axis":null},"yError":{"field":"err"}}},
 {"data":{"name":"o7i"},"mark":{"type":"circle","color":"#000","size":22,"opacity":1},"encoding":{"x":{"field":"day","type":"quantitative","scale":{"domain":[-20,560],"nice":false,"zero":false},"axis":{"orient":"top","title":null,"labels":false,"values":[0,50,100,150,200,250,300,350,400,450,500,550],"tickSize":{"condition":{"test":"datum.value % 200 === 0","value":-12},"value":-6}}},"y":{"field":"flux","type":"quantitative","scale":{"domain":[-45,218],"nice":false,"zero":false},"axis":{"orient":"right","title":null,"labels":false,"values":[-40,-30,-20,-10,0,10,20,30,40,50,60,70,80,90,100,110,120,130,140,150,160,170,180,190,200,210],"tickSize":{"condition":{"test":"datum.value % 50 === 0","value":-12},"value":-6}}}}},
 {"data":{"values":[{"day":286,"flux":131,"label":"7\u2003 i"}]},"mark":{"type":"text","align":"right","baseline":"middle","font":"Liberation Serif","fontSize":26,"color":"#000"},"encoding":{"x":{"field":"day","type":"quantitative","scale":{"domain":[-20,560],"nice":false,"zero":false},"axis":null},"y":{"field":"flux","type":"quantitative","scale":{"domain":[-45,218],"nice":false,"zero":false},"axis":null},"text":{"field":"label","type":"nominal"}}}
],"resolve":{"axis":{"x":"independent","y":"independent"}}},
{"width":668,"height":30,"view":{"stroke":null},"data":{"values":[{"a":1}]},"mark":{"type":"text"},"encoding":{"text":{"value":""}}},
{"width":668,"height":93,"layer":[
 {"data":{"name":"m8r"},"mark":{"type":"line","color":"#ff0000","strokeWidth":1.1},"encoding":{"x":{"field":"day","type":"quantitative","scale":{"domain":[-20,560],"nice":false,"zero":false},"axis":{"orient":"bottom","title":null,"labels":false,"values":[0,50,100,150,200,250,300,350,400,450,500,550],"tickSize":{"condition":{"test":"datum.value % 200 === 0","value":-12},"value":-6}}},"y":{"field":"flux","type":"quantitative","scale":{"domain":[-7.8,9.2],"nice":false,"zero":false},"axis":{"orient":"left","title":"ΔFlux (ADU/s)","titleX":-85,"titleY":96,"titleAngle":270,"titleAlign":"center","titleBaseline":"bottom","values":[-7,-6,-5,-4,-3,-2,-1,0,1,2,3,4,5,6,7,8,9],"tickSize":{"condition":{"test":"datum.value % 5 === 0","value":-12},"value":-6},"labelExpr":"datum.value % 5 === 0 ? datum.label : ''","labelPadding":21}}}},
 {"data":{"name":"o8r"},"mark":{"type":"errorbar","ticks":false,"rule":{"color":"#111","strokeWidth":1}},"encoding":{"x":{"field":"day","type":"quantitative","scale":{"domain":[-20,560],"nice":false,"zero":false},"axis":null},"y":{"field":"flux","type":"quantitative","scale":{"domain":[-7.8,9.2],"nice":false,"zero":false},"axis":null},"yError":{"field":"err"}}},
 {"data":{"name":"o8r"},"mark":{"type":"circle","color":"#000","size":22,"opacity":1},"encoding":{"x":{"field":"day","type":"quantitative","scale":{"domain":[-20,560],"nice":false,"zero":false},"axis":{"orient":"top","title":null,"labels":false,"values":[0,50,100,150,200,250,300,350,400,450,500,550],"tickSize":{"condition":{"test":"datum.value % 200 === 0","value":-12},"value":-6}}},"y":{"field":"flux","type":"quantitative","scale":{"domain":[-7.8,9.2],"nice":false,"zero":false},"axis":{"orient":"right","title":null,"labels":false,"values":[-7,-6,-5,-4,-3,-2,-1,0,1,2,3,4,5,6,7,8,9],"tickSize":{"condition":{"test":"datum.value % 5 === 0","value":-12},"value":-6}}}}},
 {"data":{"values":[{"day":286,"flux":3.6,"label":"8\u2003 r"}]},"mark":{"type":"text","align":"right","baseline":"middle","font":"Liberation Serif","fontSize":26,"color":"#000"},"encoding":{"x":{"field":"day","type":"quantitative","scale":{"domain":[-20,560],"nice":false,"zero":false},"axis":null},"y":{"field":"flux","type":"quantitative","scale":{"domain":[-7.8,9.2],"nice":false,"zero":false},"axis":null},"text":{"field":"label","type":"nominal"}}}
],"resolve":{"axis":{"x":"independent","y":"independent"}}},
{"width":668,"height":93,"layer":[
 {"data":{"name":"m8i"},"mark":{"type":"line","color":"#ff0000","strokeWidth":1.1},"encoding":{"x":{"field":"day","type":"quantitative","scale":{"domain":[-20,560],"nice":false,"zero":false},"axis":{"orient":"bottom","title":null,"values":[0,50,100,150,200,250,300,350,400,450,500,550],"tickSize":{"condition":{"test":"datum.value % 200 === 0","value":-12},"value":-6},"labelExpr":"datum.value % 200 === 0 ? datum.label : ''","labelPadding":21}},"y":{"field":"flux","type":"quantitative","scale":{"domain":[-7.8,9.2],"nice":false,"zero":false},"axis":{"orient":"left","title":null,"values":[-7,-6,-5,-4,-3,-2,-1,0,1,2,3,4,5,6,7,8,9],"tickSize":{"condition":{"test":"datum.value % 5 === 0","value":-12},"value":-6},"labelExpr":"datum.value % 5 === 0 ? datum.label : ''","labelPadding":21}}}},
 {"data":{"name":"o8i"},"mark":{"type":"errorbar","ticks":false,"rule":{"color":"#111","strokeWidth":1}},"encoding":{"x":{"field":"day","type":"quantitative","scale":{"domain":[-20,560],"nice":false,"zero":false},"axis":null},"y":{"field":"flux","type":"quantitative","scale":{"domain":[-7.8,9.2],"nice":false,"zero":false},"axis":null},"yError":{"field":"err"}}},
 {"data":{"name":"o8i"},"mark":{"type":"circle","color":"#000","size":22,"opacity":1},"encoding":{"x":{"field":"day","type":"quantitative","scale":{"domain":[-20,560],"nice":false,"zero":false},"axis":{"orient":"top","title":null,"labels":false,"values":[0,50,100,150,200,250,300,350,400,450,500,550],"tickSize":{"condition":{"test":"datum.value % 200 === 0","value":-12},"value":-6}}},"y":{"field":"flux","type":"quantitative","scale":{"domain":[-7.8,9.2],"nice":false,"zero":false},"axis":{"orient":"right","title":null,"labels":false,"values":[-7,-6,-5,-4,-3,-2,-1,0,1,2,3,4,5,6,7,8,9],"tickSize":{"condition":{"test":"datum.value % 5 === 0","value":-12},"value":-6}}}}},
 {"data":{"values":[{"day":286,"flux":3.6,"label":"8\u2003 i"}]},"mark":{"type":"text","align":"right","baseline":"middle","font":"Liberation Serif","fontSize":26,"color":"#000"},"encoding":{"x":{"field":"day","type":"quantitative","scale":{"domain":[-20,560],"nice":false,"zero":false},"axis":null},"y":{"field":"flux","type":"quantitative","scale":{"domain":[-7.8,9.2],"nice":false,"zero":false},"axis":null},"text":{"field":"label","type":"nominal"}}}
],"resolve":{"axis":{"x":"independent","y":"independent"}}},
{"width":668,"height":30,"view":{"stroke":null},"data":{"values":[{"a":1}]},"mark":{"type":"text"},"encoding":{"text":{"value":""}}},
{"width":668,"height":93,"layer":[
 {"data":{"name":"m9r"},"mark":{"type":"line","color":"#ff0000","strokeWidth":1.1},"encoding":{"x":{"field":"day","type":"quantitative","scale":{"domain":[-20,560],"nice":false,"zero":false},"axis":{"orient":"bottom","title":null,"labels":false,"values":[0,50,100,150,200,250,300,350,400,450,500,550],"tickSize":{"condition":{"test":"datum.value % 200 === 0","value":-12},"value":-6}}},"y":{"field":"flux","type":"quantitative","scale":{"domain":[-5,12.3],"nice":false,"zero":false},"axis":{"orient":"left","title":null,"values":[-5,-4,-3,-2,-1,0,1,2,3,4,5,6,7,8,9,10,11,12],"tickSize":{"condition":{"test":"datum.value % 5 === 0","value":-12},"value":-6},"labelExpr":"datum.value % 5 === 0 ? datum.label : ''","labelPadding":21}}}},
 {"data":{"name":"o9r"},"mark":{"type":"errorbar","ticks":false,"rule":{"color":"#111","strokeWidth":1}},"encoding":{"x":{"field":"day","type":"quantitative","scale":{"domain":[-20,560],"nice":false,"zero":false},"axis":null},"y":{"field":"flux","type":"quantitative","scale":{"domain":[-5,12.3],"nice":false,"zero":false},"axis":null},"yError":{"field":"err"}}},
 {"data":{"name":"o9r"},"mark":{"type":"circle","color":"#000","size":22,"opacity":1},"encoding":{"x":{"field":"day","type":"quantitative","scale":{"domain":[-20,560],"nice":false,"zero":false},"axis":{"orient":"top","title":null,"labels":false,"values":[0,50,100,150,200,250,300,350,400,450,500,550],"tickSize":{"condition":{"test":"datum.value % 200 === 0","value":-12},"value":-6}}},"y":{"field":"flux","type":"quantitative","scale":{"domain":[-5,12.3],"nice":false,"zero":false},"axis":{"orient":"right","title":null,"labels":false,"values":[-5,-4,-3,-2,-1,0,1,2,3,4,5,6,7,8,9,10,11,12],"tickSize":{"condition":{"test":"datum.value % 5 === 0","value":-12},"value":-6}}}}},
 {"data":{"values":[{"day":286,"flux":6.6,"label":"9\u2003 r"}]},"mark":{"type":"text","align":"right","baseline":"middle","font":"Liberation Serif","fontSize":26,"color":"#000"},"encoding":{"x":{"field":"day","type":"quantitative","scale":{"domain":[-20,560],"nice":false,"zero":false},"axis":null},"y":{"field":"flux","type":"quantitative","scale":{"domain":[-5,12.3],"nice":false,"zero":false},"axis":null},"text":{"field":"label","type":"nominal"}}}
],"resolve":{"axis":{"x":"independent","y":"independent"}}},
{"width":668,"height":93,"layer":[
 {"data":{"name":"m9i"},"mark":{"type":"line","color":"#ff0000","strokeWidth":1.1},"encoding":{"x":{"field":"day","type":"quantitative","scale":{"domain":[-20,560],"nice":false,"zero":false},"axis":{"orient":"bottom","title":null,"values":[0,50,100,150,200,250,300,350,400,450,500,550],"tickSize":{"condition":{"test":"datum.value % 200 === 0","value":-12},"value":-6},"labelExpr":"datum.value % 200 === 0 ? datum.label : ''","labelPadding":21}},"y":{"field":"flux","type":"quantitative","scale":{"domain":[-5,10],"nice":false,"zero":false},"axis":{"orient":"left","title":null,"values":[-5,-4,-3,-2,-1,0,1,2,3,4,5,6,7,8,9,10],"tickSize":{"condition":{"test":"datum.value % 5 === 0","value":-12},"value":-6},"labelExpr":"datum.value % 5 === 0 ? datum.label : ''","labelPadding":21}}}},
 {"data":{"name":"o9i"},"mark":{"type":"errorbar","ticks":false,"rule":{"color":"#111","strokeWidth":1}},"encoding":{"x":{"field":"day","type":"quantitative","scale":{"domain":[-20,560],"nice":false,"zero":false},"axis":null},"y":{"field":"flux","type":"quantitative","scale":{"domain":[-5,10],"nice":false,"zero":false},"axis":null},"yError":{"field":"err"}}},
 {"data":{"name":"o9i"},"mark":{"type":"circle","color":"#000","size":22,"opacity":1},"encoding":{"x":{"field":"day","type":"quantitative","scale":{"domain":[-20,560],"nice":false,"zero":false},"axis":{"orient":"top","title":null,"labels":false,"values":[0,50,100,150,200,250,300,350,400,450,500,550],"tickSize":{"condition":{"test":"datum.value % 200 === 0","value":-12},"value":-6}}},"y":{"field":"flux","type":"quantitative","scale":{"domain":[-5,10],"nice":false,"zero":false},"axis":{"orient":"right","title":null,"labels":false,"values":[-5,-4,-3,-2,-1,0,1,2,3,4,5,6,7,8,9,10],"tickSize":{"condition":{"test":"datum.value % 5 === 0","value":-12},"value":-6}}}}},
 {"data":{"values":[{"day":286,"flux":5.05,"label":"9\u2003 i"}]},"mark":{"type":"text","align":"right","baseline":"middle","font":"Liberation Serif","fontSize":26,"color":"#000"},"encoding":{"x":{"field":"day","type":"quantitative","scale":{"domain":[-20,560],"nice":false,"zero":false},"axis":null},"y":{"field":"flux","type":"quantitative","scale":{"domain":[-5,10],"nice":false,"zero":false},"axis":null},"text":{"field":"label","type":"nominal"}}}
],"resolve":{"axis":{"x":"independent","y":"independent"}}},
{"width":668,"height":30,"view":{"stroke":null},"data":{"values":[{"a":1}]},"mark":{"type":"text"},"encoding":{"text":{"value":""}}},
{"width":668,"height":93,"layer":[
 {"data":{"name":"m10r"},"mark":{"type":"line","color":"#ff0000","strokeWidth":1.1},"encoding":{"x":{"field":"day","type":"quantitative","scale":{"domain":[-20,560],"nice":false,"zero":false},"axis":{"orient":"bottom","title":null,"labels":false,"values":[0,50,100,150,200,250,300,350,400,450,500,550],"tickSize":{"condition":{"test":"datum.value % 200 === 0","value":-12},"value":-6}}},"y":{"field":"flux","type":"quantitative","scale":{"domain":[-7.8,9.2],"nice":false,"zero":false},"axis":{"orient":"left","title":null,"values":[-7,-6,-5,-4,-3,-2,-1,0,1,2,3,4,5,6,7,8,9],"tickSize":{"condition":{"test":"datum.value % 5 === 0","value":-12},"value":-6},"labelExpr":"datum.value % 5 === 0 ? datum.label : ''","labelPadding":21}}}},
 {"data":{"name":"o10r"},"mark":{"type":"errorbar","ticks":false,"rule":{"color":"#111","strokeWidth":1}},"encoding":{"x":{"field":"day","type":"quantitative","scale":{"domain":[-20,560],"nice":false,"zero":false},"axis":null},"y":{"field":"flux","type":"quantitative","scale":{"domain":[-7.8,9.2],"nice":false,"zero":false},"axis":null},"yError":{"field":"err"}}},
 {"data":{"name":"o10r"},"mark":{"type":"circle","color":"#000","size":22,"opacity":1},"encoding":{"x":{"field":"day","type":"quantitative","scale":{"domain":[-20,560],"nice":false,"zero":false},"axis":{"orient":"top","title":null,"labels":false,"values":[0,50,100,150,200,250,300,350,400,450,500,550],"tickSize":{"condition":{"test":"datum.value % 200 === 0","value":-12},"value":-6}}},"y":{"field":"flux","type":"quantitative","scale":{"domain":[-7.8,9.2],"nice":false,"zero":false},"axis":{"orient":"right","title":null,"labels":false,"values":[-7,-6,-5,-4,-3,-2,-1,0,1,2,3,4,5,6,7,8,9],"tickSize":{"condition":{"test":"datum.value % 5 === 0","value":-12},"value":-6}}}}},
 {"data":{"values":[{"day":286,"flux":3.6,"label":"10\u2003 r"}]},"mark":{"type":"text","align":"right","baseline":"middle","font":"Liberation Serif","fontSize":26,"color":"#000"},"encoding":{"x":{"field":"day","type":"quantitative","scale":{"domain":[-20,560],"nice":false,"zero":false},"axis":null},"y":{"field":"flux","type":"quantitative","scale":{"domain":[-7.8,9.2],"nice":false,"zero":false},"axis":null},"text":{"field":"label","type":"nominal"}}}
],"resolve":{"axis":{"x":"independent","y":"independent"}}},
{"width":668,"height":93,"layer":[
 {"data":{"name":"m10i"},"mark":{"type":"line","color":"#ff0000","strokeWidth":1.1},"encoding":{"x":{"field":"day","type":"quantitative","scale":{"domain":[-20,560],"nice":false,"zero":false},"axis":{"orient":"bottom","title":"Days from 1 Aug 1999","titlePadding":18,"values":[0,50,100,150,200,250,300,350,400,450,500,550],"tickSize":{"condition":{"test":"datum.value % 200 === 0","value":-12},"value":-6},"labelExpr":"datum.value % 200 === 0 ? datum.label : ''","labelPadding":21}},"y":{"field":"flux","type":"quantitative","scale":{"domain":[-10.8,9.3],"nice":false,"zero":false},"axis":{"orient":"left","title":null,"values":[-10,-9,-8,-7,-6,-5,-4,-3,-2,-1,0,1,2,3,4,5,6,7,8,9],"tickSize":{"condition":{"test":"datum.value % 5 === 0","value":-12},"value":-6},"labelExpr":"datum.value % 5 === 0 ? datum.label : ''","labelPadding":21}}}},
 {"data":{"name":"o10i"},"mark":{"type":"errorbar","ticks":false,"rule":{"color":"#111","strokeWidth":1}},"encoding":{"x":{"field":"day","type":"quantitative","scale":{"domain":[-20,560],"nice":false,"zero":false},"axis":null},"y":{"field":"flux","type":"quantitative","scale":{"domain":[-10.8,9.3],"nice":false,"zero":false},"axis":null},"yError":{"field":"err"}}},
 {"data":{"name":"o10i"},"mark":{"type":"circle","color":"#000","size":22,"opacity":1},"encoding":{"x":{"field":"day","type":"quantitative","scale":{"domain":[-20,560],"nice":false,"zero":false},"axis":{"orient":"top","title":null,"labels":false,"values":[0,50,100,150,200,250,300,350,400,450,500,550],"tickSize":{"condition":{"test":"datum.value % 200 === 0","value":-12},"value":-6}}},"y":{"field":"flux","type":"quantitative","scale":{"domain":[-10.8,9.3],"nice":false,"zero":false},"axis":{"orient":"right","title":null,"labels":false,"values":[-10,-9,-8,-7,-6,-5,-4,-3,-2,-1,0,1,2,3,4,5,6,7,8,9],"tickSize":{"condition":{"test":"datum.value % 5 === 0","value":-12},"value":-6}}}}},
 {"data":{"values":[{"day":286,"flux":2.66,"label":"10\u2003 i"}]},"mark":{"type":"text","align":"right","baseline":"middle","font":"Liberation Serif","fontSize":26,"color":"#000"},"encoding":{"x":{"field":"day","type":"quantitative","scale":{"domain":[-20,560],"nice":false,"zero":false},"axis":null},"y":{"field":"flux","type":"quantitative","scale":{"domain":[-10.8,9.3],"nice":false,"zero":false},"axis":null},"text":{"field":"label","type":"nominal"}}}
],"resolve":{"axis":{"x":"independent","y":"independent"}}}
],
"spacing":0,
"bounds":"flush"
}
